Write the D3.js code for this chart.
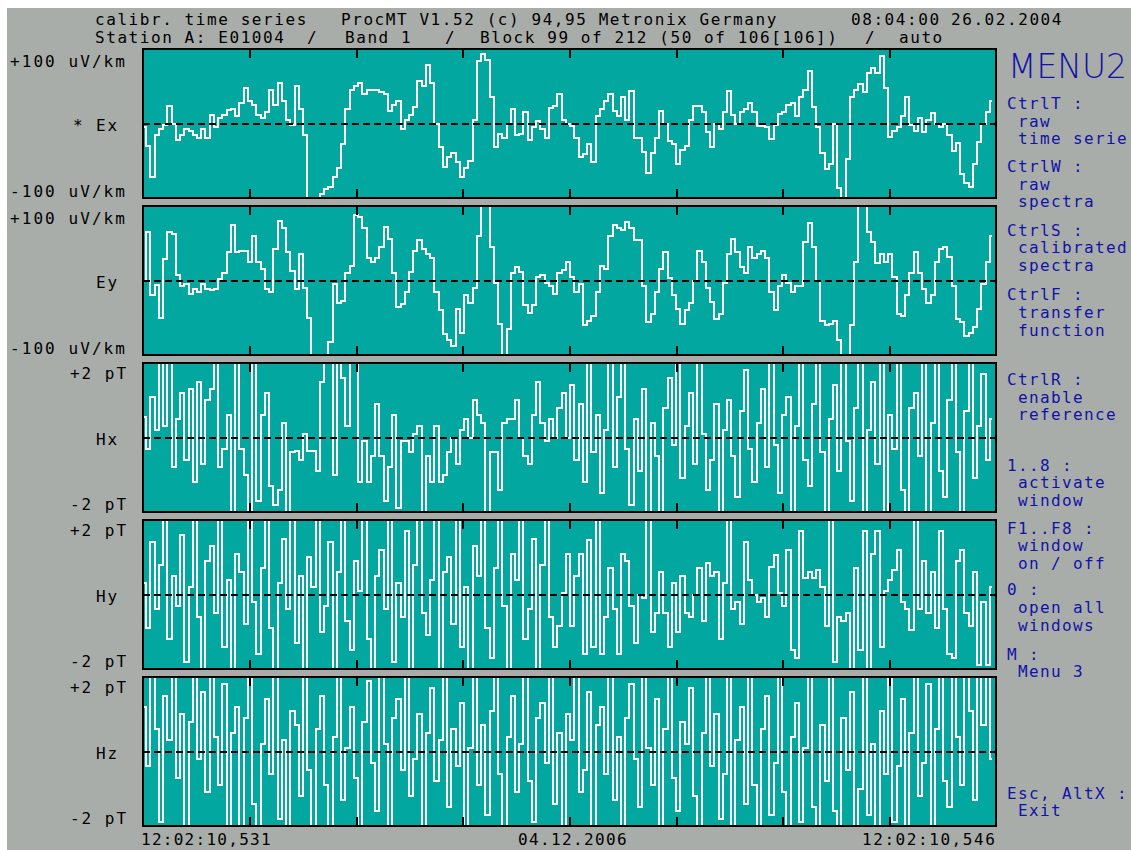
<!DOCTYPE html>
<html>
<head>
<meta charset="utf-8">
<script src="https://cdn.jsdelivr.net/npm/d3@7"></script>
<style>
  html, body { margin: 0; padding: 0; background: #ffffff; }
  svg { display: block; }
  text { font-family: "DejaVu Sans Mono", "Liberation Mono", monospace; white-space: pre; }
</style>
</head>
<body>
<svg id="chart" width="1131" height="850"></svg>
<script>
// ---- channel data (one sample per column step) ----
const channelNames = ["* Ex", "Ey", "Hx", "Hy", "Hz"];
const topLabels    = ["+100 uV/km", "+100 uV/km", "+2 pT", "+2 pT", "+2 pT"];
const bottomLabels = ["-100 uV/km", "-100 uV/km", "-2 pT", "-2 pT", "-2 pT"];
const fullScale    = [100, 100, 2, 2, 2];

const exValues = [
  -5, -30, -72, -15, -8, -2, 24, 0, -22, -15,
  -8, -10, -15, -20, -8, -20, 12, -5, 8, 12,
  18, 20, 10, 28, 48, 30, 25, 12, 8, 15,
  45, 25, 55, 30, 5, -2, 50, 20, -15, -100,
  -130, -100, -95, -88, -85, -72, -60, -28, 20, 45,
  50, 55, 40, 45, 45, 45, 42, 40, 17, 25,
  30, -8, 5, 12, 22, 57, 50, 78, 55, 0,
  -32, -58, -45, -39, -52, -72, -60, -50, 5, 84,
  93, 85, 35, -32, -14, -20, 0, 19, -16, -14,
  15, -22, -5, 4, -8, -20, 21, 24, 39, 5,
  0, -3, -19, -45, -41, -28, -52, 10, 19, 30,
  40, 17, 10, 35, 5, 44, -19, -20, -38, -66,
  -40, -20, 17, 0, -23, -28, -55, -35, -30, 5,
  24, 24, 15, -12, -32, 0, -7, 15, 44, 12,
  -1, 15, 20, 28, 15, -3, -3, -5, -21, -2,
  13, 15, 25, 27, 10, 35, 45, 70, 22, -5,
  -40, -61, -55, 0, -86, -100, -48, 35, 45, 53,
  42, 68, 75, 68, 90, 48, -18, -10, -5, 10,
  35, -2, -10, 8, -12, 5, 14, 0, -5, 0,
  -15, -37, -26, -68, -80, -85, -55, -25, 0, 15, 30
];

const eyValues = [
  0, 65, -20, -6, -50, 29, 65, 63, 7, -7,
  -5, -18, -12, -15, -5, -12, -13, -11, 2, 10,
  38, 75, 38, 40, 40, 25, 60, 25, 15, -12,
  -15, 42, 80, 70, 38, 13, -12, 35, -10, -50,
  -110, -130, -130, -110, -83, -5, -30, -28, 10, 20,
  88, 85, 70, 30, 25, 30, 45, 72, 56, 10,
  -35, -32, -15, 12, 40, 54, 42, 36, 30, -15,
  -40, -72, -80, -88, -38, -70, -20, -30, -10, 60,
  110, 105, 45, -3, -58, -100, -65, 10, 18, 12,
  -33, -43, -33, 5, 7, -3, -8, -18, 10, 14,
  25, 5, -15, -5, -60, -54, -48, -15, 20, 16,
  60, 74, 70, 68, 78, 70, 55, 55, -7, -56,
  -45, -15, 15, 38, 3, -20, -38, -58, -40, -30,
  0, 40, 25, -10, -29, -52, -45, -3, 35, 56,
  38, 18, 10, 45, 30, 35, 40, 30, -15, -40,
  -7, 8, -3, -15, -8, -7, 52, 77, 45, 0,
  -55, -60, -58, -55, -80, -100, -100, -60, 25, 100,
  105, 65, 52, 23, 35, 25, 35, 5, -45, -48,
  -20, 10, 38, 10, -12, -30, -20, 25, 42, 45,
  32, -7, -52, -56, -75, -70, -63, -38, -5, 25, 60
];

const hxValues = [
  0.55, -0.3, 1.1, 0.2, 2.3, 0.3, 2.3, -0.8, 0.5, 1.2,
  -0.6, 1.3, -1.2, 1.5, -0.7, 1.0, 1.3, 2.3, -0.8, -0.3,
  0.6, -2.3, 2.3, -0.3, -1.0, -2.3, 2.3, -1.7, 0.6, 1.2,
  -1.3, -1.8, -1.4, 0.4, -2.3, -0.4, -0.35, -0.6, 0.1, -0.35,
  -0.35, -0.9, 1.5, 2.3, 2.3, -1.0, 2.3, 1.6, 0.3, 2.3,
  2.3, -1.2, -0.1, -1.2, -0.5, 0.9, -0.5, -1.7, -0.8, 0.6,
  -1.9, -0.1, -0.1, -0.4, 0.1, 0.3, -2.0, -0.5, -1.2, 0.3,
  -1.2, -1.0, -0.4, 0, -0.7, 0.2, 0.5, 0, 1.0, 0.6,
  0.4, -2.0, -0.4, -0.4, -1.4, 0.4, 0.5, 0.5, 1.0, 0,
  -0.5, -0.7, 0.6, 1.5, 0.4, -0.1, 0.5, 0, 0.8, 1.2,
  0,
  1.4, -0.6, 0.9, -1.2, 2.3, -0.4, 0.6, -1.5, 0.2, 2.3,
  -0.8, 1.1, 2.3, -0.3, -1.8, 0.5, -0.9, 1.3, -2.3, 0.4,
  -0.5, -2.3, 0.8, 1.6, -0.2, 2.3, -1.1, 0.3, 1.2, -0.7,
  2.3, 0.1, -1.4, -0.6, 0.9, -2.3, 0.2, 1.0, -0.5, -1.6,
  0.7, 1.8, -0.3, -1.2, 0.4, 1.3, -0.8, 2.3, -0.2, -1.5,
  0.6, 1.1, -2.3, 0.3, 2.3, -0.6, -1.3, 0.9, 2.3, -0.4,
  -2.3, 0.5, 1.4, -0.9, 2.3, -0.1, -1.7, 0.8, 2.3, -2.3,
  0.2, 1.5, -0.7, 2.3, -2.3, 0.6, -0.3, 2.3, -1.4, -2.3,
  0.8, 1.2, -0.5, 2.3, -2.3, 0.4, 2.3, -0.9, -1.6, 1.0,
  2.3, -0.4, -2.3, 0.7, 2.3, -1.1, 0.3, 1.7, -0.6, 0.5
];

const hyValues = [
  0.3, -0.9, 1.4, -0.4, 0.8, 2.3, -1.2, 0.5, -0.3, 1.6,
  -1.8, 0.2, 2.3, -0.6, -2.3, 0.9, 1.3, -0.5, 2.3, -1.4,
  0.4, -2.3, 1.1, 0.6, -0.8, 2.3, -0.2, -1.6, 0.7, 2.3,
  -0.9, -2.3, 0.3, 1.5, -0.4, 2.3, -1.3, 0.5, -2.3, 1.0,
  0.2, 2.3, -1.0, -0.3, 1.4, -2.3, 0.6, 2.3, -0.7, -1.5,
  0.9, 0.1, 2.3, -1.2, -2.3, 0.5, 1.2, -0.4, 2.3, -1.8,
  0.3, -0.6, 1.7, -2.3, 0.8, 2.3, -0.5, -1.1, 0.4, 2.3,
  -2.3, 0.6, 1.0, -0.8, 2.3, -1.4, 0.2, -2.3, 1.3, 0.5,
  2.3, -0.9, -1.7, 0.7, 2.3, -0.3, -2.3, 1.1, 0.4, 2.3,
  -1.2, -0.4, 1.5, -2.3, 0.8, 2.3, -0.6, -1.4,
  -0.85, 0.05, 1.1, -0.85, 0.5, 1.1, -1.6, 1.45, -1.4, 2.3,
  -1.6, -0.6, 0.7, -0.4, -1.6, 1.1, 0.9, -0.3, -1.3, 0,
  -0.1, 2.3, -1.0, -0.5, 0.6, -0.5, -1.4, 0.3, -1.0, 0.5,
  -0.5, -0.6, 0, 0.7, -0.7, 0.85, 0.5, 0.6, -1.2, 0.3,
  2.3, -0.4, -0.2, -0.8, 1.4, 0.4, 0, -0.2, -0.1, -0.6,
  0.75, 1.05, 0.05, -0.3, 1.2, -1.5, -1.7, 1.7, 0.45, 0.6,
  0.45, 0.65, 0.2, -0.85, 2.3, -1.8, -0.6, -0.7, -0.5, -2.0,
  0.7, -1.5, 1.7, -2.0, 1.1, 1.7, -1.4, 0.1, 0.4, 0.65,
  1.2, -0.2, -0.4, -0.95, 2.3, -0.4, 0.9, -0.5, 0.6, -0.9,
  1.7, -0.4, -1.6, -1.7, 0.9, 1.2, -0.5, -0.85, 0.6, -1.9,
  -0.2, -1.9, 0.2
];

const hzValues = [
  1.2, -0.4, 2.3, 0.6, -1.9, 1.5, 0.3, 2.3, -0.7, 1.0,
  -2.3, 0.8, 2.3, -0.2, 1.6, -1.1, 2.3, 0.4, -0.9, 1.8,
  -2.3, 0.5, 1.2, -2.3, 0.9, 2.3, -1.4, -2.3, 0.2, 1.4,
  -0.6, 2.3, -1.8, 0.3, -2.3, 1.1, 0.7, -1.2, 2.3, -0.5,
  -2.3, 0.6, 1.5, -0.9, -2.3, 0.4, 2.3, -1.3, 0.1, 1.2,
  -0.7, -2.3, 0.8, 1.9, -0.3, -1.6, 2.3, 0.2, -2.3, 0.9,
  1.4, -0.5, 2.3, -1.2, -0.2, 1.0, -2.3, 0.5, 1.7, -0.8,
  0.3, 2.3, -1.5, 0.6, -0.4, 1.3, -2.3, 0.1, 2.3, -0.9,
  0.7, -1.7, 1.1, 2.3, -0.6, -2.3, 0.4, 1.5, -1.1, 0.2,
  2.3, -0.8, -1.9, 0.9, 1.3, -0.3, 2.3, -1.4, 0.5, -2.3,
  1.0, 0.3, 2.3, -1.1, -0.5, 1.6, -2.3, 0.7, 1.2, -0.6,
  2.3, -1.3, 0.4, -2.3, 0.9, 1.8, -0.2, -1.5, 2.3, 0.1,
  -0.9, 1.4, -2.3, 0.6, 2.3, -0.7, -1.6, 0.8, 0.2, 1.7,
  -1.2, -2.3, 0.5, 2.3, -0.4, 1.0, -1.8, -0.6, 2.3, -2.3,
  0.3, 1.2, -1.4, 2.3, -0.9, -2.3, 0.6, 1.5, -1.7, -0.3,
  2.3, -1.1, -2.3, 0.4, 1.3, -1.9, 0.1, 2.3, -1.5, -2.3,
  0.7, -0.8, 2.3, -1.6, -2.3, 0.9, -0.5, 1.6, -2.3, -1.0,
  2.3, -1.7, 0.2, -2.3, 1.1, -0.6, 2.3, -1.9, -0.4, 1.4,
  -2.3, 0.5, 2.3, -1.2, -0.3, 1.8, -2.3, 0.6, 2.3, -0.8,
  -1.5, 2.3, 0.4, -0.9, 2.3, 1.1, -1.3, 2.3, 0.7, 2.3, -0.2
];

const seriesValues = [exValues, eyValues, hxValues, hyValues, hzValues];

// ---- header / footer text ----
const headerLine1 = [
  ["calibr. time series", 95],
  ["ProcMT V1.52 (c) 94,95 Metronix Germany", 341],
  ["08:04:00", 851],
  ["26.02.2004", 951]
];
const headerLine2 = [
  ["Station A: E01004", 95],
  ["/", 307],
  ["Band 1", 345],
  ["/", 445],
  ["Block 99 of 212 (50 of 106[106])", 480],
  ["/", 865],
  ["auto", 899]
];
const timeLabels = ["12:02:10,531", "04.12.2006", "12:02:10,546"];

// ---- menu ----
const menuTitle = "MENU2";
const menuLayout = [
  ["CtrlT :", 109], [" raw", 126.5], [" time serie", 144],
  ["CtrlW :", 172], [" raw", 189.5], [" spectra", 207],
  ["CtrlS :", 235.5], [" calibrated", 253], [" spectra", 271],
  ["CtrlF :", 300], [" transfer", 318], [" function", 335.5],
  ["CtrlR :", 385], [" enable", 403], [" reference", 420],
  ["1..8 :", 470.5], [" activate", 488], [" window", 506],
  ["F1..F8 :", 533.5], [" window", 551], [" on / off", 569],
  ["0 :", 595], [" open all", 613], [" windows", 631],
  ["M :", 659.5], [" Menu 3", 677],
  ["Esc, AltX :", 798.5], [" Exit", 816]
];

// ---- styling & layout ----
const W = 1131, H = 850;
const GRAY = "#a9ada9", TEAL = "#02a7a0", INK = "#000000", MENU_BLUE = "#1212a8";
const plotLeft = 143, plotRight = 996;
const panelTop0 = 49, panelH = 149, panelStep = 157;
const GLYPH_ADV = 0.602; // DejaVu Sans Mono advance per em

const svg = d3.select("#chart");
svg.append("rect").attr("width", W).attr("height", H).attr("fill", "#ffffff");
svg.append("rect").attr("x", 7).attr("y", 8).attr("width", W - 7).attr("height", H - 8).attr("fill", GRAY);

function monoText(g, str, x, y, cw, fill, size) {
  size = size || 16;
  return g.append("text")
    .attr("x", x).attr("y", y)
    .attr("fill", fill)
    .style("font-size", size + "px")
    .style("letter-spacing", (cw - GLYPH_ADV * size).toFixed(2) + "px")
    .attr("xml:space", "preserve")
    .text(str);
}

// header
const header = svg.append("g");
headerLine1.forEach(([s, x]) => monoText(header, s, x, 25, 11.2, INK));
headerLine2.forEach(([s, x]) => monoText(header, s, x, 43, 11.2, INK));

// shared horizontal scale: sample index -> pixel column
const nSamples = exValues.length;
const x = d3.scaleLinear().domain([0, nSamples - 1]).range([plotLeft + 1, plotRight - 4]);
const gridScale = d3.scaleLinear().domain([0, 8]).range([plotLeft, plotRight]);

const defs = svg.append("defs");

seriesValues.forEach((vals, i) => {
  const top = panelTop0 + i * panelStep;
  const bottom = top + panelH;
  const fs = fullScale[i];
  const y = d3.scaleLinear().domain([-fs, fs]).range([bottom, top]);
  const g = svg.append("g");

  g.append("rect")
    .attr("x", plotLeft).attr("y", top)
    .attr("width", plotRight - plotLeft).attr("height", panelH)
    .attr("fill", TEAL);

  defs.append("clipPath").attr("id", "clip" + i)
    .append("rect")
    .attr("x", plotLeft + 1).attr("y", top + 1)
    .attr("width", plotRight - plotLeft - 2).attr("height", panelH - 2);

  const line = d3.line()
    .x((d, j) => x(j))
    .y(d => y(d))
    .curve(d3.curveStep);

  g.append("path")
    .datum(vals)
    .attr("clip-path", "url(#clip" + i + ")")
    .attr("d", line)
    .attr("fill", "none")
    .attr("stroke", "#ffffff")
    .attr("stroke-width", 2)
    .attr("shape-rendering", "crispEdges");

  // zero line
  g.append("line")
    .attr("x1", plotLeft).attr("x2", plotRight)
    .attr("y1", Math.round(y(0))).attr("y2", Math.round(y(0)))
    .attr("stroke", INK).attr("stroke-width", 2)
    .attr("stroke-dasharray", "7,4");

  // interior tick marks, top and bottom
  const tickVals = d3.range(1, 8);
  const axTop = g.append("g").attr("transform", `translate(0,${top})`)
    .call(d3.axisTop(gridScale).tickValues(tickVals).tickSize(-9).tickFormat(""));
  const axBot = g.append("g").attr("transform", `translate(0,${bottom})`)
    .call(d3.axisBottom(gridScale).tickValues(tickVals).tickSize(-9).tickFormat(""));
  [axTop, axBot].forEach(a => {
    a.select(".domain").remove();
    a.selectAll(".tick line").attr("stroke", INK).attr("stroke-width", 2).attr("shape-rendering", "crispEdges");
  });

  // frame
  g.append("rect")
    .attr("x", plotLeft).attr("y", top)
    .attr("width", plotRight - plotLeft).attr("height", panelH)
    .attr("fill", "none").attr("stroke", INK).attr("stroke-width", 2);

  // channel labels
  const isE = i < 2;
  if (isE) {
    monoText(g, topLabels[i], 10, top + 18, 11.7, INK);
    monoText(g, bottomLabels[i], 10, bottom - 1, 11.7, INK);
  } else {
    monoText(g, topLabels[i], 70, top + 16, 11.6, INK);
    monoText(g, bottomLabels[i], 70, bottom - 2, 11.6, INK);
  }
  const nm = channelNames[i];
  monoText(g, nm, 119 - nm.length * 11.5, (top + bottom) / 2 + 7, 11.5, INK);
});

// time axis labels
const footer = svg.append("g");
monoText(footer, timeLabels[0], 141, 845, 10.9, INK);
monoText(footer, timeLabels[1], 518, 845, 11.0, INK);
monoText(footer, timeLabels[2], 862, 845, 11.2, INK);

// menu
const menu = svg.append("g");
menu.append("text")
  .attr("x", 1008).attr("y", 78)
  .attr("fill", MENU_BLUE)
  .style("font-family", "'DejaVu Sans', sans-serif")
  .style("font-weight", "200")
  .style("font-size", "33px")
  .attr("textLength", 119)
  .attr("lengthAdjust", "spacingAndGlyphs")
  .text(menuTitle);
menuLayout.forEach(([s, y]) => monoText(menu, s, 1007, y, 11, MENU_BLUE));
</script>
</body>
</html>
